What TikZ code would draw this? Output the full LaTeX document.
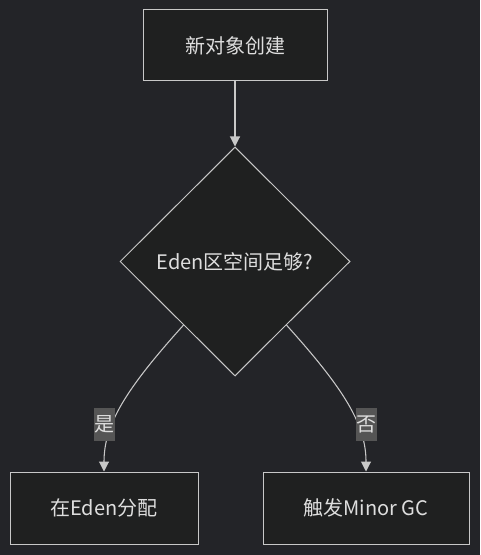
\documentclass[tikz,border=0pt]{standalone}
\usepackage{fontspec}
\setmainfont{Noto Sans CJK SC}
\usetikzlibrary{shapes.geometric,arrows.meta}

\definecolor{bgc}{RGB}{35,36,40}
\definecolor{boxfill}{RGB}{31,32,32}
\definecolor{linec}{RGB}{200,200,200}
\definecolor{txtc}{RGB}{222,222,222}
\definecolor{lblfill}{RGB}{85,85,85}

\tikzset{
  box/.style={draw=linec, fill=boxfill, line width=0.75pt, text=txtc, inner sep=0pt, font=\fontsize{15}{18}\selectfont},
  edge/.style={draw=linec, line width=0.8pt, -{Triangle[width=7.5pt,length=7.5pt]}},
  lbl/.style={fill=lblfill, text=txtc, inner sep=0pt, minimum width=15.75pt, minimum height=24.75pt, font=\fontsize{15}{18}\selectfont}
}

\begin{document}
\begin{tikzpicture}[x=0.75pt,y=0.75pt,yscale=-1]
%set diagram to the size of the picture
\path [fill=bgc] (0,0) rectangle (480,555);

%Shape: Rectangle [new]
\node [box, minimum width=138pt, minimum height=53.25pt] (new) at (235,45.5) {新对象创建};
%Shape: Diamond [chk]
\node [box, diamond, minimum width=172.5pt, minimum height=171.75pt] (chk) at (235,261.5) {Eden区空间足够?};
%Shape: Rectangle [alloc]
\node [box, minimum width=141pt, minimum height=54pt] (alloc) at (104,508) {在Eden分配};
%Shape: Rectangle [gc]
\node [box, minimum width=154.5pt, minimum height=54pt] (gc) at (366,508) {触发Minor GC};

%Straight Lines
\draw [edge] (new.south) -- (chk.north);
%Curve Lines
\draw [edge] (chk.231) .. controls (125,390) and (104,425) .. (alloc.north);
%Curve Lines
\draw [edge] (chk.309) .. controls (345,390) and (366,425) .. (gc.north);

% Text Node
\node [lbl] (yes) at (104,424.5) {是};
% Text Node
\node [lbl] (no) at (366,424.5) {否};

\end{tikzpicture}
\end{document}
